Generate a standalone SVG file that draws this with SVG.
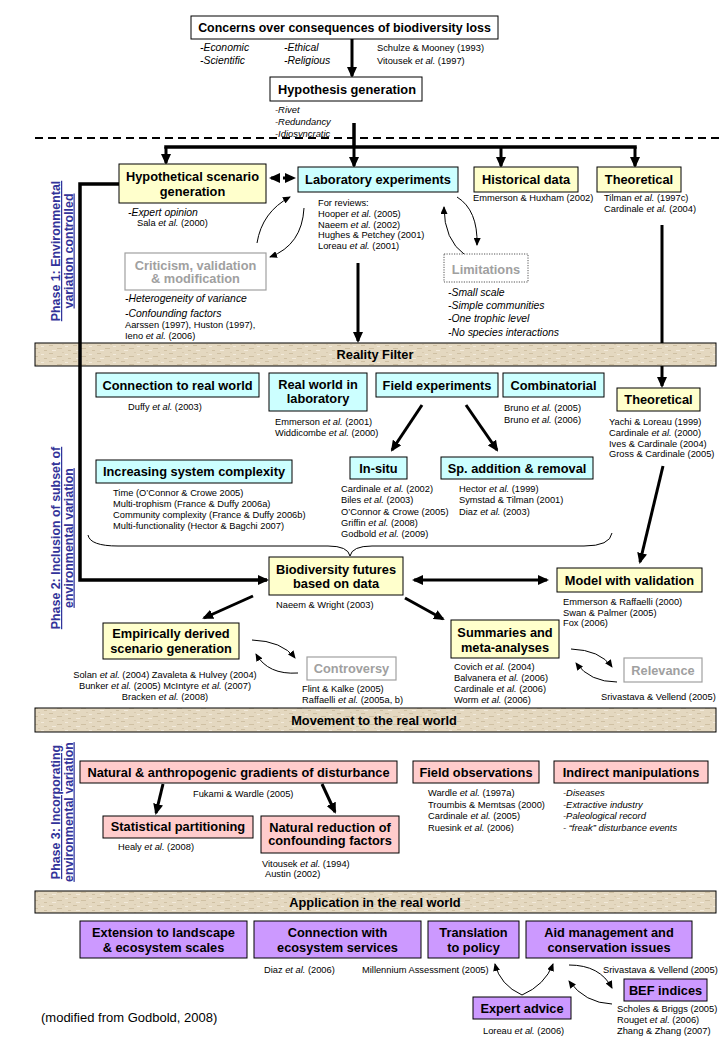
<svg xmlns="http://www.w3.org/2000/svg" width="720" height="1040" viewBox="0 0 720 1040">
<defs>
<style>
text { font-family: "Liberation Sans", Arial, sans-serif; fill:#000; }
.bx { font-weight:bold; font-size:12.8px; text-anchor:middle; }
.gt { fill:#A0A0A0; }
.rf { font-size:9.3px; }
.it { font-style:italic; font-size:10.4px; }
.sm { font-style:italic; font-size:9.4px; }
.e { font-style:italic; }
.ph { font-weight:bold; font-size:12.4px; fill:#333399; text-decoration:underline; text-anchor:middle; }
.y { fill:#FFFFCC; stroke:#000; stroke-width:1; }
.c { fill:#CCFFFF; stroke:#000; stroke-width:1; }
.p { fill:#FFCCCC; stroke:#000; stroke-width:1; }
.v { fill:#CC99FF; stroke:#000; stroke-width:1; }
.w { fill:#FFFFFF; stroke:#000; stroke-width:1; }
.gb { fill:#FFFFFF; stroke:#A0A0A0; stroke-width:1.2; }
.band { fill:url(#tex); stroke:#000; stroke-width:1; }
.thick { fill:none; stroke:#000; stroke-width:3; marker-end:url(#ah); }
.thin { fill:none; stroke:#000; stroke-width:1; marker-end:url(#ahs); }
</style>
<marker id="ah" markerUnits="userSpaceOnUse" markerWidth="11" markerHeight="10" viewBox="0 0 11 10" refX="9" refY="5" orient="auto-start-reverse"><path d="M0,0 L11,5 L0,10 z" fill="#000"/></marker>
<marker id="ahs" markerUnits="userSpaceOnUse" markerWidth="8" markerHeight="7" viewBox="0 0 8 7" refX="7" refY="3.5" orient="auto"><path d="M0,0 L8,3.5 L0,7 z" fill="#000"/></marker>
<pattern id="tex" patternUnits="userSpaceOnUse" width="24" height="8">
<rect width="24" height="8" fill="#E4D8C0"/>
<rect x="1" y="1" width="4" height="1" fill="#CFC0A3"/>
<rect x="9" y="4" width="5" height="1" fill="#CFC0A3"/>
<rect x="17" y="2" width="3" height="1" fill="#F2EADB"/>
<rect x="4" y="6" width="4" height="1" fill="#F2EADB"/>
<rect x="14" y="0" width="2" height="1" fill="#D8CAB0"/>
<rect x="20" y="6" width="3" height="1" fill="#CFC0A3"/>
</pattern>
</defs>
<rect width="720" height="1040" fill="#FFFFFF"/>

<!-- dashed separator -->
<line x1="35" y1="138" x2="720" y2="138" stroke="#000" stroke-width="2" stroke-dasharray="8,5"/>

<!-- bands -->
<g id="reality-filter"><rect class="band" x="35" y="343" width="681" height="23"/><text class="bx" x="375" y="359">Reality Filter</text></g>
<g id="movement"><rect class="band" x="35" y="708" width="681" height="24"/><text class="bx" x="374" y="724.5">Movement to the real world</text></g>
<g id="application"><rect class="band" x="35" y="891" width="681" height="22"/><text class="bx" x="375" y="906.5">Application in the real world</text></g>

<!-- phase labels -->
<g id="phase1"><text class="ph" transform="translate(60,251) rotate(-90)">Phase 1: Environmental</text><text class="ph" transform="translate(72.5,251) rotate(-90)">variation controlled</text></g>
<g id="phase2"><text class="ph" transform="translate(60,538) rotate(-90)">Phase 2: Inclusion of subset of</text><text class="ph" transform="translate(72.5,538) rotate(-90)">environmental variation</text></g>
<g id="phase3"><text class="ph" transform="translate(60,812) rotate(-90)">Phase 3: Incorporating</text><text class="ph" transform="translate(72.5,812) rotate(-90)">environmental variation</text></g>

<!-- connectors -->
<g id="connectors">
<line class="thick" x1="352" y1="39" x2="352" y2="76"/>
<line x1="354" y1="123" x2="354" y2="147" stroke="#000" stroke-width="3.5"/>
<line x1="164.25" y1="147" x2="636.75" y2="147" stroke="#000" stroke-width="3.5"/>
<line class="thick" x1="354" y1="147" x2="354" y2="166"/>
<line class="thick" x1="166" y1="147" x2="166" y2="163"/>
<line class="thick" x1="501" y1="147" x2="501" y2="166"/>
<line class="thick" x1="635" y1="147" x2="635" y2="166"/>
<line x1="271" y1="178" x2="294" y2="178" stroke="#000" stroke-width="3" stroke-dasharray="3,3" marker-start="url(#ah)" marker-end="url(#ah)"/>
<path class="thin" d="M257,243 Q262,212 290,197"/>
<path class="thin" d="M304,208 Q302,245 270,257"/>
<path class="thin" d="M465,255 Q444,240 444,207"/>
<path class="thin" d="M457,197 Q478,210 477,245"/>
<line class="thick" x1="358" y1="263" x2="358" y2="341"/>
<line x1="662" y1="225" x2="662" y2="343" stroke="#000" stroke-width="3"/>
<line class="thick" x1="662" y1="366" x2="662" y2="386"/>
<path d="M119,184 H80 V580 H267" fill="none" stroke="#000" stroke-width="3.5" marker-end="url(#ah)"/>
<line class="thick" x1="422" y1="405" x2="392" y2="450"/>
<line class="thick" x1="466" y1="405" x2="497" y2="450"/>
<path d="M88,535 Q90,546 118,546 L328,546 Q348,546 350,556 Q352,546 372,546 L584,546 Q610,546 612,533" fill="none" stroke="#000" stroke-width="1"/>
<line class="thick" x1="663" y1="466" x2="640" y2="562"/>
<line x1="414" y1="580" x2="547" y2="580" stroke="#000" stroke-width="3" marker-start="url(#ah)" marker-end="url(#ah)"/>
<line class="thick" x1="253" y1="596" x2="204" y2="618"/>
<line class="thick" x1="405" y1="598" x2="443" y2="619"/>
<path class="thin" d="M252,640 Q282,641 295,658"/>
<path class="thin" d="M298,673 Q268,675 256,654"/>
<path class="thin" d="M571,649 Q600,650 612,667"/>
<path class="thin" d="M617,682 Q590,682 576,663"/>
<line class="thick" x1="163" y1="784" x2="156" y2="813"/>
<line class="thick" x1="322" y1="784" x2="335" y2="812"/>
<path class="thin" d="M522,995 Q500,985 495,964"/>
<path class="thin" d="M522,995 Q545,985 553,964"/>
<path class="thin" d="M569,965 Q600,965 612,988"/>
<path class="thin" d="M612,1004 Q585,1003 569,981"/>
</g>

<!-- top -->
<g id="concerns">
<rect class="w" x="191" y="16" width="307" height="23"/>
<text class="bx" x="344.5" y="32" style="font-size:12.4px">Concerns over consequences of biodiversity loss</text>
<text class="it" x="200" y="51">-Economic</text>
<text class="it" x="200" y="64">-Scientific</text>
<text class="it" x="284" y="51">-Ethical</text>
<text class="it" x="284" y="64">-Religious</text>
<text class="rf" x="377" y="51">Schulze &amp; Mooney (1993)</text>
<text class="rf" x="377" y="64">Vitousek <tspan class="e">et al.</tspan> (1997)</text>
</g>
<g id="hypothesis">
<rect class="w" x="270" y="77" width="152" height="24"/>
<text class="bx" x="347" y="93.5">Hypothesis generation</text>
<text class="sm" x="275" y="112.5">-Rivet</text>
<text class="sm" x="275" y="124.5">-Redundancy</text>
<text class="sm" x="275" y="136.5">-Idiosyncratic</text>
</g>

<!-- phase 1 -->
<g id="hypothetical">
<rect class="y" x="119" y="164" width="147" height="39"/>
<text class="bx" x="192.5" y="180.5">Hypothetical scenario</text>
<text class="bx" x="192.5" y="195.5">generation</text>
<text class="it" x="128" y="215.5">-Expert opinion</text>
<text class="rf" x="137" y="225.5">Sala <tspan class="e">et al.</tspan> (2000)</text>
</g>
<g id="laboratory">
<rect class="c" x="298" y="167" width="160" height="25"/>
<text class="bx" x="378" y="184">Laboratory experiments</text>
<text class="rf" x="318" y="206">For reviews:</text>
<text class="rf" x="318" y="217">Hooper <tspan class="e">et al.</tspan> (2005)</text>
<text class="rf" x="318" y="227.5">Naeem <tspan class="e">et al.</tspan> (2002)</text>
<text class="rf" x="318" y="238">Hughes &amp; Petchey (2001)</text>
<text class="rf" x="318" y="248.5">Loreau <tspan class="e">et al.</tspan> (2001)</text>
</g>
<g id="historical">
<rect class="y" x="474" y="167" width="104" height="25"/>
<text class="bx" x="526" y="184">Historical data</text>
<text class="rf" x="473" y="201">Emmerson &amp; Huxham (2002)</text>
</g>
<g id="theoretical1">
<rect class="y" x="597" y="167" width="84" height="25"/>
<text class="bx" x="639" y="184">Theoretical</text>
<text class="rf" x="604" y="201">Tilman <tspan class="e">et al.</tspan> (1997c)</text>
<text class="rf" x="604" y="212">Cardinale <tspan class="e">et al.</tspan> (2004)</text>
</g>
<g id="criticism">
<rect class="gb" x="125" y="253" width="141" height="37"/>
<text class="bx gt" x="195.5" y="269.5">Criticism, validation</text>
<text class="bx gt" x="195.5" y="282.5">&amp; modification</text>
<text class="it" x="125" y="301.5">-Heterogeneity of variance</text>
<text class="it" x="125" y="316.5">-Confounding factors</text>
<text class="rf" x="125" y="327.5">Aarssen (1997), Huston (1997),</text>
<text class="rf" x="125" y="338.5">Ieno <tspan class="e">et al.</tspan> (2006)</text>
</g>
<g id="limitations">
<rect x="444" y="254" width="84" height="28" fill="#FFFFFF" stroke="#555" stroke-width="1" stroke-dasharray="1.2,1.3"/>
<text class="bx gt" x="486" y="273.5">Limitations</text>
<text class="it" x="448" y="295.5">-Small scale</text>
<text class="it" x="448" y="309">-Simple communities</text>
<text class="it" x="448" y="322">-One trophic level</text>
<text class="it" x="448" y="335.5">-No species interactions</text>
</g>

<!-- phase 2 -->
<g id="connection-real-world">
<rect class="c" x="96" y="373" width="163" height="24"/>
<text class="bx" x="177.5" y="389.5">Connection to real world</text>
<text class="rf" x="128" y="409.5">Duffy <tspan class="e">et al.</tspan> (2003)</text>
</g>
<g id="real-world-lab">
<rect class="c" x="269" y="373" width="98" height="38"/>
<text class="bx" x="318" y="388.5">Real world in</text>
<text class="bx" x="318" y="402.5">laboratory</text>
<text class="rf" x="275" y="424.5">Emmerson  <tspan class="e">et al.</tspan> (2001)</text>
<text class="rf" x="275" y="435.5">Widdicombe <tspan class="e">et al.</tspan> (2000)</text>
</g>
<g id="field-experiments">
<rect class="c" x="376" y="373" width="122" height="24"/>
<text class="bx" x="437" y="389.5">Field experiments</text>
</g>
<g id="combinatorial">
<rect class="c" x="503" y="373" width="101" height="24"/>
<text class="bx" x="553.5" y="389.5">Combinatorial</text>
<text class="rf" x="504" y="410.5">Bruno <tspan class="e">et al.</tspan> (2005)</text>
<text class="rf" x="504" y="422.5">Bruno <tspan class="e">et al.</tspan> (2006)</text>
</g>
<g id="theoretical2">
<rect class="y" x="617" y="388" width="83" height="23"/>
<text class="bx" x="658.5" y="404">Theoretical</text>
<text class="rf" x="609" y="424.5">Yachi &amp; Loreau (1999)</text>
<text class="rf" x="609" y="435.5">Cardinale <tspan class="e">et al.</tspan> (2000)</text>
<text class="rf" x="609" y="446.5">Ives &amp; Cardinale (2004)</text>
<text class="rf" x="609" y="457">Gross &amp; Cardinale (2005)</text>
</g>
<g id="in-situ">
<rect class="c" x="350" y="457" width="57" height="22"/>
<text class="bx" x="378.5" y="472.5">In-situ</text>
<text class="rf" x="341" y="491.5">Cardinale <tspan class="e">et al.</tspan> (2002)</text>
<text class="rf" x="341" y="503">Biles <tspan class="e">et al.</tspan> (2003)</text>
<text class="rf" x="341" y="514.5">O’Connor &amp; Crowe (2005)</text>
<text class="rf" x="341" y="526">Griffin <tspan class="e">et al.</tspan> (2008)</text>
<text class="rf" x="341" y="537">Godbold <tspan class="e">et al.</tspan> (2009)</text>
</g>
<g id="sp-addition">
<rect class="c" x="441" y="457" width="152" height="22"/>
<text class="bx" x="517" y="472.5">Sp. addition &amp; removal</text>
<text class="rf" x="459" y="491.5">Hector  <tspan class="e">et al.</tspan> (1999)</text>
<text class="rf" x="459" y="503">Symstad &amp; Tilman (2001)</text>
<text class="rf" x="459" y="514.5">Diaz <tspan class="e">et al.</tspan> (2003)</text>
</g>
<g id="increasing-complexity">
<rect class="c" x="96" y="460" width="196" height="23"/>
<text class="bx" x="194" y="475.5">Increasing system complexity</text>
<text class="rf" x="113" y="495.5">Time  (O’Connor &amp; Crowe 2005)</text>
<text class="rf" x="113" y="506.5">Multi-trophism (France &amp; Duffy 2006a)</text>
<text class="rf" x="113" y="517.5">Community complexity (France &amp; Duffy 2006b)</text>
<text class="rf" x="113" y="528.5">Multi-functionality (Hector &amp; Bagchi 2007)</text>
</g>
<g id="biodiversity-futures">
<rect class="y" x="269" y="557" width="134" height="38"/>
<text class="bx" x="336" y="573.5">Biodiversity futures</text>
<text class="bx" x="336" y="587.5">based on data</text>
<text class="rf" x="276" y="607.5">Naeem &amp; Wright (2003)</text>
</g>
<g id="model-validation">
<rect class="y" x="557" y="568" width="145" height="24"/>
<text class="bx" x="629.5" y="584.5">Model with validation</text>
<text class="rf" x="563" y="604.5">Emmerson &amp; Raffaelli (2000)</text>
<text class="rf" x="563" y="615.5">Swan &amp; Palmer (2005)</text>
<text class="rf" x="563" y="626">Fox (2006)</text>
</g>
<g id="empirically">
<rect class="y" x="103" y="623" width="136" height="36"/>
<text class="bx" x="171" y="637.5">Empirically derived</text>
<text class="bx" x="171" y="652.5">scenario generation</text>
<text class="rf" x="165" y="677.5" text-anchor="middle">Solan <tspan class="e">et al.</tspan> (2004)  Zavaleta &amp; Hulvey (2004)</text>
<text class="rf" x="165" y="688.5" text-anchor="middle">Bunker  <tspan class="e">et al.</tspan> (2005)  McIntyre <tspan class="e">et al.</tspan> (2007)</text>
<text class="rf" x="165" y="699.5" text-anchor="middle">Bracken <tspan class="e">et al.</tspan> (2008)</text>
</g>
<g id="controversy">
<rect class="gb" x="307" y="657" width="89" height="23"/>
<text class="bx gt" x="351.5" y="672.5">Controversy</text>
<text class="rf" x="302" y="691.5">Flint &amp; Kalke (2005)</text>
<text class="rf" x="302" y="702.5">Raffaelli <tspan class="e">et al.</tspan> (2005a, b)</text>
</g>
<g id="summaries">
<rect class="y" x="451" y="620" width="108" height="38"/>
<text class="bx" x="505" y="636.5">Summaries and</text>
<text class="bx" x="505" y="651.5">meta-analyses</text>
<text class="rf" x="454" y="669.5">Covich <tspan class="e">et al.</tspan> (2004)</text>
<text class="rf" x="454" y="680.5">Balvanera <tspan class="e">et al.</tspan> (2006)</text>
<text class="rf" x="454" y="691.5">Cardinale  <tspan class="e">et al.</tspan> (2006)</text>
<text class="rf" x="454" y="702.5">Worm <tspan class="e">et al.</tspan> (2006)</text>
</g>
<g id="relevance">
<rect class="gb" x="624" y="658" width="78" height="24"/>
<text class="bx gt" x="663" y="674.5">Relevance</text>
<text class="rf" x="601" y="699.5">Srivastava &amp; Vellend (2005)</text>
</g>

<!-- phase 3 -->
<g id="gradients">
<rect class="p" x="80" y="761" width="317" height="22"/>
<text class="bx" x="238.5" y="776.5">Natural &amp; anthropogenic gradients of disturbance</text>
<text class="rf" x="193" y="796.5">Fukami &amp; Wardle (2005)</text>
</g>
<g id="field-observations">
<rect class="p" x="413" y="761" width="126" height="22"/>
<text class="bx" x="476" y="776.5">Field observations</text>
<text class="rf" x="428" y="795.5">Wardle <tspan class="e">et al.</tspan> (1997a)</text>
<text class="rf" x="428" y="807.5">Troumbis &amp; Memtsas (2000)</text>
<text class="rf" x="428" y="819">Cardinale <tspan class="e">et al.</tspan> (2005)</text>
<text class="rf" x="428" y="830.5">Ruesink <tspan class="e">et al.</tspan> (2006)</text>
</g>
<g id="indirect">
<rect class="p" x="554" y="761" width="154" height="22"/>
<text class="bx" x="631" y="776.5">Indirect manipulations</text>
<text class="sm" x="563" y="795.5">-Diseases</text>
<text class="sm" x="563" y="807.5">-Extractive industry</text>
<text class="sm" x="563" y="819">-Paleological record</text>
<text class="sm" x="563" y="830.5">- “freak” disturbance events</text>
</g>
<g id="statistical">
<rect class="p" x="103" y="816" width="150" height="22"/>
<text class="bx" x="178" y="831">Statistical partitioning</text>
<text class="rf" x="118" y="849.5">Healy <tspan class="e">et al.</tspan> (2008)</text>
</g>
<g id="natural-reduction">
<rect class="p" x="261" y="816" width="138" height="37"/>
<text class="bx" x="330" y="831.5">Natural reduction of</text>
<text class="bx" x="330" y="845">confounding factors</text>
<text class="rf" x="262" y="866.5">Vitousek  <tspan class="e">et al.</tspan> (1994)</text>
<text class="rf" x="265" y="877">Austin (2002)</text>
</g>

<!-- application -->
<g id="extension">
<rect class="v" x="80" y="921" width="167" height="37"/>
<text class="bx" x="163.5" y="936.5">Extension to landscape</text>
<text class="bx" x="163.5" y="951.5">&amp; ecosystem scales</text>
</g>
<g id="ecosystem-services">
<rect class="v" x="254" y="921" width="167" height="37"/>
<text class="bx" x="337.5" y="936.5">Connection with</text>
<text class="bx" x="337.5" y="951.5">ecosystem services</text>
<text class="rf" x="264" y="972.5">Diaz <tspan class="e">et al.</tspan> (2006)</text>
</g>
<g id="policy">
<rect class="v" x="428" y="921" width="91" height="37"/>
<text class="bx" x="473.5" y="936.5">Translation</text>
<text class="bx" x="473.5" y="951.5">to policy</text>
<text class="rf" x="362" y="972.5">Millennium Assessment (2005)</text>
</g>
<g id="aid-management">
<rect class="v" x="526" y="921" width="166" height="37"/>
<text class="bx" x="609" y="936.5">Aid management and</text>
<text class="bx" x="609" y="951.5">conservation issues</text>
<text class="rf" x="603" y="972.5">Srivastava &amp; Vellend (2005)</text>
</g>
<g id="bef-indices">
<rect class="v" x="624" y="979" width="83" height="22"/>
<text class="bx" x="665.5" y="994.5">BEF indices</text>
<text class="rf" x="617" y="1011.5">Scholes &amp; Briggs (2005)</text>
<text class="rf" x="617" y="1022.5">Rouget <tspan class="e">et al.</tspan> (2006)</text>
<text class="rf" x="617" y="1034">Zhang &amp; Zhang (2007)</text>
</g>
<g id="expert-advice">
<rect class="v" x="473" y="997" width="98" height="22"/>
<text class="bx" x="522" y="1012.5">Expert advice</text>
<text class="rf" x="483" y="1033.5">Loreau <tspan class="e">et al.</tspan>  (2006)</text>
</g>
<text x="41" y="1022" style="font-size:13px">(modified from Godbold, 2008)</text>
</svg>
